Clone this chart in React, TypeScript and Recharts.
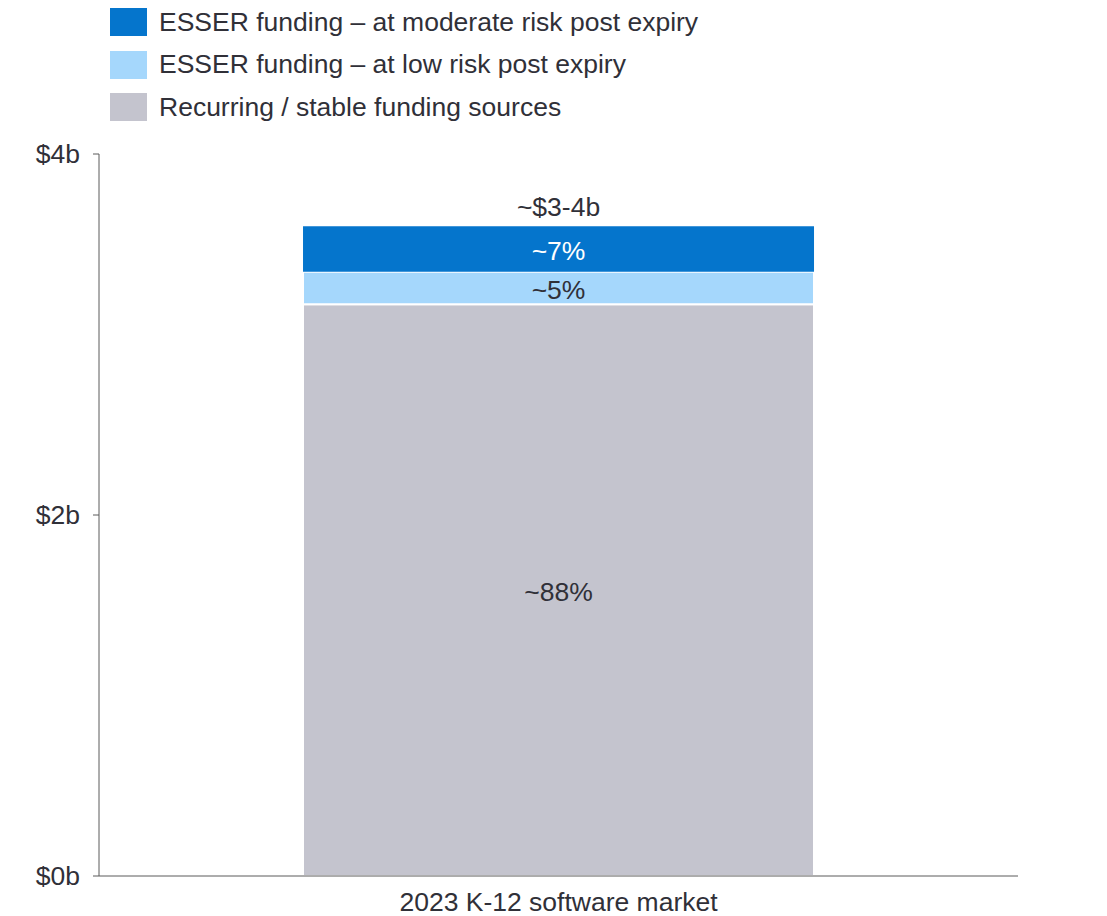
import React from 'react';
import { BarChart, Bar, XAxis, YAxis, Legend, LabelList } from 'recharts';

// Market size ($b) and share of each funding source (%)
const categories = ['2023 K-12 software market'];
const marketTotal = [3.6];
const totalLabels = ['~$3-4b'];
const recurringShare = [88];
const lowRiskShare = [5];
const moderateRiskShare = [7];
const yTicks = [0, 2, 4];

const seriesNames = [
  'ESSER funding \u2013 at moderate risk post expiry',
  'ESSER funding \u2013 at low risk post expiry',
  'Recurring / stable funding sources',
];
const seriesColors = ['#0575CC', '#A5D7FC', '#C4C4CE'];

const FONT = '"Liberation Sans", Arial, sans-serif';
const FS = 26.5;
const TEXT = '#303038';
const AXIS = '#5a5a5a';

const data = categories.map((category, i) => ({
  category,
  total: totalLabels[i],
  recurring: (marketTotal[i] * recurringShare[i]) / 100,
  lowRisk: (marketTotal[i] * lowRiskShare[i]) / 100,
  moderateRisk: (marketTotal[i] * moderateRiskShare[i]) / 100,
  recurringLabel: `~${recurringShare[i]}%`,
  lowRiskLabel: `~${lowRiskShare[i]}%`,
  moderateRiskLabel: `~${moderateRiskShare[i]}%`,
}));

const LegendContent = () => (
  <div style={{ fontFamily: FONT }}>
    {seriesNames.map((name, i) => (
      <div key={name} style={{ display: 'flex', alignItems: 'center', height: 42.5 }}>
        <div style={{ width: 37, height: 28, background: seriesColors[i], marginRight: 12 }} />
        <span style={{ fontSize: FS, color: TEXT, whiteSpace: 'nowrap' }}>{name}</span>
      </div>
    ))}
  </div>
);

// Segment share label, centred in its stacked rectangle
const ShareLabel = (props: any) => {
  const { x, y, width, height, value, color } = props;
  return (
    <text
      x={x + width / 2}
      y={y + height / 2 + 2}
      textAnchor="middle"
      dominantBaseline="central"
      fontSize={FS}
      fill={color}
      fontFamily={FONT}
    >
      {value}
    </text>
  );
};

const TotalLabel = (props: any) => {
  const { x, y, width, value } = props;
  return (
    <text x={x + width / 2} y={y - 10} textAnchor="middle" fontSize={FS} fill={TEXT} fontFamily={FONT}>
      {value}
    </text>
  );
};

export default function App() {
  return (
    <div style={{ position: 'relative', width: 1099, height: 908 }}>
      <BarChart
        width={1099}
        height={908}
        data={data}
        margin={{ top: 146, right: 89, bottom: 0, left: 0 }}
        barCategoryGap="22.2%"
        style={{ fontFamily: FONT }}
      >
        <XAxis
          dataKey="category"
          tickLine={false}
          axisLine={{ stroke: AXIS }}
          height={40}
          tickMargin={10}
          tick={{ fontSize: FS, fill: TEXT, fontFamily: FONT }}
        />
        <YAxis
          type="number"
          domain={[0, 4]}
          ticks={yTicks}
          tickFormatter={(v: number) => `$${v}b`}
          width={91}
          tickSize={6}
          tickMargin={13}
          axisLine={{ stroke: AXIS }}
          tickLine={{ stroke: AXIS }}
          tick={{ fontSize: FS, fill: TEXT, fontFamily: FONT }}
        />
        <Legend
          layout="vertical"
          align="center"
          verticalAlign="middle"
          content={<LegendContent />}
          wrapperStyle={{ top: -7, left: 102, width: 'auto' }}
        />
        <Bar dataKey="recurring" stackId="a" fill={seriesColors[2]} stroke="#fff" strokeWidth={2} isAnimationActive={false}>
          <LabelList dataKey="recurringLabel" content={<ShareLabel color={TEXT} />} />
        </Bar>
        <Bar dataKey="lowRisk" stackId="a" fill={seriesColors[1]} stroke="#fff" strokeWidth={2} isAnimationActive={false}>
          <LabelList dataKey="lowRiskLabel" content={<ShareLabel color={TEXT} />} />
        </Bar>
        <Bar dataKey="moderateRisk" stackId="a" fill={seriesColors[0]} isAnimationActive={false}>
          <LabelList dataKey="moderateRiskLabel" content={<ShareLabel color="#ffffff" />} />
          <LabelList dataKey="total" content={<TotalLabel />} />
        </Bar>
      </BarChart>
    </div>
  );
}
